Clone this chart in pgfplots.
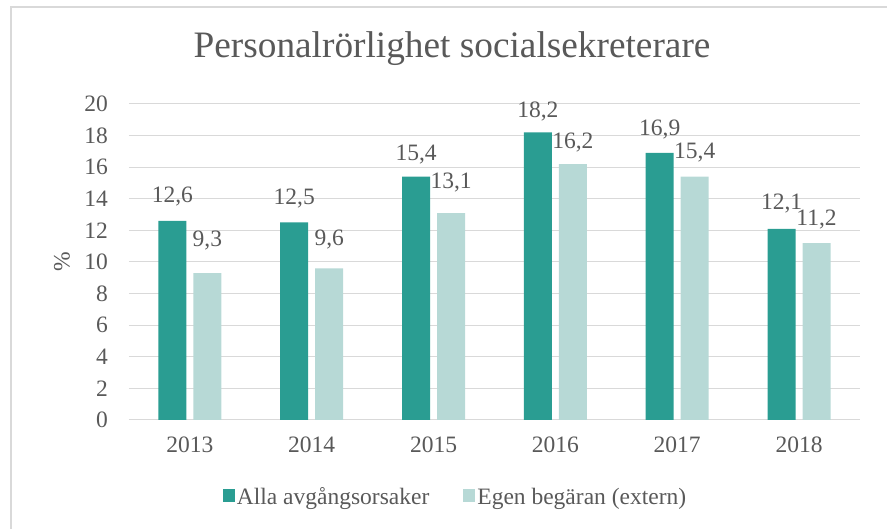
\documentclass[border=0pt]{standalone}
\usepackage{fontspec}
\setmainfont{Liberation Serif}
\usepackage{pgfplots}
\usepackage{pgfplotstable}
\pgfplotsset{compat=1.18}
\definecolor{tealbar}{RGB}{42,157,146}
\definecolor{lightbar}{RGB}{183,217,214}
\definecolor{textgray}{RGB}{89,89,89}
\definecolor{gridgray}{RGB}{217,217,217}

\pgfplotstableread{
x y dy
0 12.6 18
1 12.5 18
2 15.4 16
3 18.2 15
4 16.9 17
5 12.1 19
}\alla
\pgfplotstableread{
x y dy
0 9.3 27
1 9.6 23
2 13.1 25
3 16.2 16
4 15.4 18
5 11.2 18
}\egen

\begin{document}
\begin{tikzpicture}[x=1pt,y=1pt]
\draw[gridgray, line width=1.6pt] (11,-5) -- (11,522) -- (895,522);
\begin{axis}[
  at={(129pt,109pt)}, anchor=south west,
  scale only axis, width=731pt, height=316pt,
  ymin=0, ymax=20, ytick={0,2,...,20},
  xmin=-0.5, xmax=5.5, xtick={0,...,5},
  xticklabels={2013,2014,2015,2016,2017,2018},
  ybar=7pt, bar width=28pt,
  axis x line*=bottom, axis y line*=left,
  x axis line style={draw=gridgray, line width=1pt, -},
  y axis line style={draw=none},
  ymajorgrids, grid style={gridgray, line width=1pt},
  major tick length=0pt,
  tick label style={font=\fontsize{23.5}{28}\selectfont, text=textgray, inner sep=0pt},
  /pgf/number format/assume math mode=true,
  yticklabel style={anchor=east, xshift=-21pt},
  xticklabel style={anchor=base, yshift=-33pt},
  ylabel={\%},
  ylabel style={at={(axis description cs:-0.0917,0.5)}, anchor=center, font=\fontsize{23.5}{28}\selectfont, text=textgray},
  title={Personalrörlighet socialsekreterare},
  title style={at={(axis description cs:0.4419,1.1297)}, anchor=base, font=\fontsize{37.3}{44}\selectfont, text=textgray, inner sep=0pt},
  legend columns=2,
  legend style={at={(axis description cs:0.4467,-0.2437)}, anchor=center, draw=none, fill=none,
    font=\fontsize{23.5}{28}\selectfont, text=textgray,
    /tikz/every odd column/.append style={column sep=0pt},
    /tikz/every even column/.append style={column sep=32pt}},
  legend image code/.code={\path[#1, draw=none] (0pt,-5pt) rectangle (12pt,8pt);},
  nodes near coords={\pgfmathprintnumber[fixed,fixed zerofill,precision=1,use comma,assume math mode=true]{\pgfplotspointmeta}},
  visualization depends on={\thisrow{dy} \as \dy},
  every node near coord/.append style={anchor=base, yshift=\dy pt, font=\fontsize{23.5}{28}\selectfont, text=textgray, inner sep=0pt},
]
\addplot[fill=tealbar, draw=none] table[x=x, y=y] {\alla};
\addlegendentry{Alla avgångsorsaker}
\addplot[fill=lightbar, draw=none] table[x=x, y=y] {\egen};
\addlegendentry{Egen begäran (extern)}
\end{axis}
\pgfresetboundingbox
\useasboundingbox (0,0) rectangle (887,529);
\end{tikzpicture}
\end{document}
